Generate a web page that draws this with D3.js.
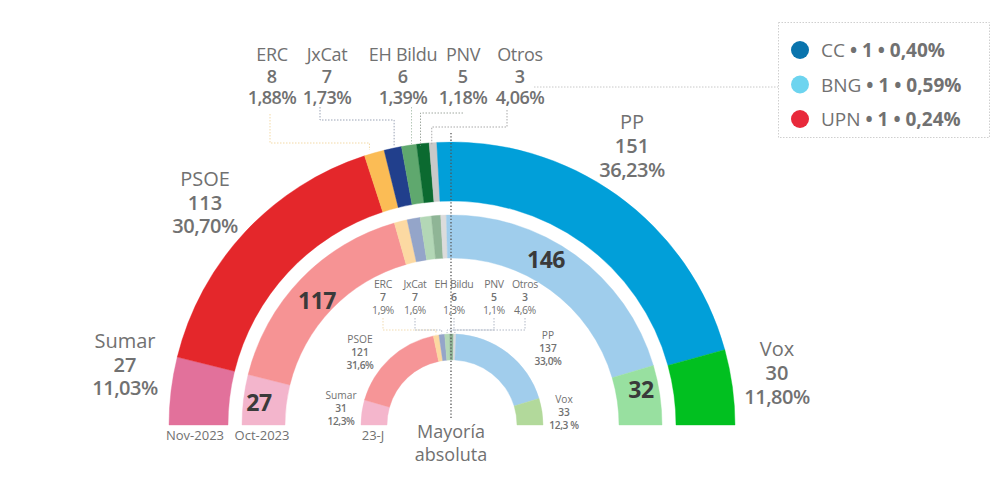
<!DOCTYPE html>
<html><head><meta charset="utf-8">
<script src="https://cdn.jsdelivr.net/npm/d3@7"></script>
<style>body{margin:0;background:#fff}svg{display:block;font-family:"Open Sans",sans-serif}</style>
</head><body><svg id="c" width="991" height="478"></svg>
<script>
const parties = ["Sumar","PSOE","ERC","JxCat","EH Bildu","PNV","Otros","PP","Vox"];
const seatsNov = [27,113,8,7,6,5,3,151,30];
const seatsOct = [27,117,7,7,6,5,3,146,32];
const seatsJul = [31,121,7,7,6,5,3,137,33];
const pctNov = ["11,03%","30,70%","1,88%","1,73%","1,39%","1,18%","4,06%","36,23%","11,80%"];
const pctJul = ["12,3%","31,6%","1,9%","1,6%","1,3%","1,1%","4,6%","33,0%","12,3 %"];
const ringLabels = ["Nov-2023","Oct-2023","23-J"];
const legendParties = ["CC","BNG","UPN"];
const legendSeats = [1,1,1];
const legendPct = ["0,40%","0,59%","0,24%"];

const colNov = ["#e2719b","#e4272b","#fbbc55","#213f8c","#5fa86e","#0b6a30","#c9c9c9","#019fd9","#01c020"];
const colOct = ["#f3b5cc","#f69394","#fcd9a2","#94a5c9","#b3d7b6","#8fb596","#dcdcdc","#9fcdec","#98e0a0"];
const colJul = ["#f4b6cc","#f69597","#fcd8a0","#94a5c9","#b3d7b6","#8fb596","#dcdcdc","#a1cdec","#b2d99b"];
const legendCol = ["#0a74ad","#6dd4ef","#e8293b"];

const svg = d3.select("#c");
const cx = 452, cy = 425;
const gray = "#717171";
const rings = [
  {seats: seatsNov, col: colNov, r0: 224, r1: 283},
  {seats: seatsOct, col: colOct, r0: 167, r1: 210},
  {seats: seatsJul, col: colJul, r0: 65, r1: 91}
];
const pie = d3.pie().sort(null).startAngle(-Math.PI/2).endAngle(Math.PI/2);
const g = svg.append("g").attr("transform", `translate(${cx},${cy})`);
const arcsData = rings.map(r => pie(r.seats));
rings.forEach((r, i) => {
  const arc = d3.arc().innerRadius(r.r0).outerRadius(r.r1);
  g.append("g").selectAll("path").data(arcsData[i]).join("path")
    .attr("d", arc).attr("fill", (d, j) => r.col[j]).attr("stroke", (d,j)=>r.col[j]).attr("stroke-width",0.4);
});
const mid = d => (d.startAngle + d.endAngle) / 2;
const pt = (a, r) => [cx + r * Math.sin(a), cy - r * Math.cos(a)];

// Majority line
svg.append("line").attr("x1", cx - 1).attr("x2", cx - 1).attr("y1", 133).attr("y2", 420)
  .attr("stroke", "#555").attr("stroke-width", 1.3).attr("stroke-dasharray", "1.3,2");

// Outer small party labels
const topX = [null,null,272,327,403,463,520,null,null];
const leaderCol = [null,null,"#f3d9a6","#9aa3b5","#b5c9b8","#a0a8a0","#a9a9a9",null,null];
const ld = d3.line();
for (let j = 2; j <= 6; j++) {
  const t = svg.append("text").attr("text-anchor", "middle").attr("fill", gray).attr("font-size", 18);
  t.append("tspan").attr("x", topX[j]).attr("y", 61).attr("letter-spacing", -0.3).text(parties[j]);
  t.append("tspan").attr("x", topX[j]).attr("y", 83).attr("font-weight", 600).text(seatsNov[j]);
  t.append("tspan").attr("x", topX[j]).attr("y", 104).attr("font-weight", 600).attr("letter-spacing", -0.6).text(pctNov[j]);
  const p = pt(mid(arcsData[0][j]), 286);
  let pts;
  if (j === 2) pts = [[topX[j]-2, 114], [topX[j]-2, 143], [p[0]-4, 143], [p[0]-4, 150]];
  if (j === 3) pts = [[topX[j]-7, 107], [topX[j]-7, 120], [p[0]+2, 120], [p[0]+2, 146]];
  if (j === 4) pts = [[p[0]+3, 107], [p[0]+3, 144]];
  if (j === 5) pts = [[topX[j], 113], [p[0] - 2, 113], [p[0] - 2, 146]];
  if (j === 6) pts = [[topX[j] - 13, 110], [topX[j] - 13, 127], [p[0]-1, 127], [p[0]-1, 145]];
  svg.append("path").attr("d", ld(pts)).attr("fill", "none").attr("stroke", leaderCol[j])
    .attr("stroke-width", 1).attr("stroke-dasharray", "1.5,1.5");
}
// connector to legend
svg.append("path").attr("d", ld([[534, 87], [778, 87]])).attr("fill", "none")
  .attr("stroke", "#c8c8c8").attr("stroke-width", 1).attr("stroke-dasharray", "1.5,1.5");

// Big outer labels
function block(x, y, name, num, pct, size, gap) {
  const t = svg.append("text").attr("text-anchor", "middle").attr("fill", gray).attr("font-size", size);
  t.append("tspan").attr("x", x).attr("y", y).text(name);
  t.append("tspan").attr("x", x).attr("y", y + gap).attr("font-weight", 600).text(num);
  t.append("tspan").attr("x", x).attr("y", y + 2 * gap).attr("font-weight", 600).attr("letter-spacing", -0.5).text(pct);
}
block(205, 186, parties[1], seatsNov[1], pctNov[1], 20, 23.5);
block(125, 348, parties[0], seatsNov[0], pctNov[0], 20, 23.5);
block(632, 129, parties[7], seatsNov[7], pctNov[7], 20, 24);
block(777, 356, parties[8], seatsNov[8], pctNov[8], 20, 24);

// Middle ring numbers
const darkTxt = "#3a3a3a";
const midNums = [[0, 259, 411], [1, 317, 309], [7, 546, 268], [8, 641, 398]];
midNums.forEach(([j, x, y]) => {
  svg.append("text").attr("x", x).attr("y", y).attr("text-anchor", "middle").attr("fill", darkTxt)
    .attr("font-size", 23).attr("font-weight", 700).attr("letter-spacing", -0.5).text(seatsOct[j]);
});

// Inner ring labels
const smallX = [null,null,383,415,454,494,525,null,null];
for (let j = 2; j <= 6; j++) {
  const t = svg.append("text").attr("text-anchor", "middle").attr("fill", gray).attr("font-size", 10.5);
  t.append("tspan").attr("x", smallX[j]).attr("y", 288).attr("letter-spacing", -0.3).text(parties[j]);
  t.append("tspan").attr("x", smallX[j]).attr("y", 301).attr("font-weight", 600).text(seatsJul[j]);
  t.append("tspan").attr("x", smallX[j]).attr("y", 314).attr("letter-spacing", -0.4).text(pctJul[j]);
  const p = pt(mid(arcsData[2][j]), 92);
  svg.append("path").attr("d", ld([[smallX[j], 318], [smallX[j], 330], [p[0], 330], [p[0], p[1]]]))
    .attr("fill", "none").attr("stroke", j === 2 ? "#f0d8a8" : "#a8b0c0").attr("stroke-width", 0.9)
    .attr("stroke-dasharray", "1.5,1.5");
}
function smallBlock(x, y, j) {
  const t = svg.append("text").attr("text-anchor", "middle").attr("fill", gray).attr("font-size", 10.2);
  t.append("tspan").attr("x", x).attr("y", y).text(parties[j]);
  t.append("tspan").attr("x", x).attr("y", y + 13).attr("font-weight", 600).text(seatsJul[j]);
  t.append("tspan").attr("x", x).attr("y", y + 26).attr("font-weight", 600).attr("letter-spacing", -0.4).text(pctJul[j]);
}
smallBlock(360, 343, 1);
smallBlock(341, 399, 0);
smallBlock(548, 339, 7);
smallBlock(564, 403, 8);

// Ring date labels
[[195, 440], [262, 440], [373, 440]].forEach(([x, y], i) => {
  svg.append("text").attr("x", x).attr("y", y).attr("text-anchor", "middle").attr("fill", gray)
    .attr("font-size", 13).text(ringLabels[i]);
});
svg.append("text").attr("x", 451).attr("y", 438).attr("text-anchor", "middle").attr("fill", gray)
  .attr("font-size", 18).text("Mayoría");
svg.append("text").attr("x", 451).attr("y", 461).attr("text-anchor", "middle").attr("fill", gray)
  .attr("font-size", 18).text("absoluta");

// Legend
svg.append("rect").attr("x", 778.5).attr("y", 22.5).attr("width", 211).attr("height", 115)
  .attr("fill", "none").attr("stroke", "#cfcfcf").attr("stroke-dasharray", "1.5,1.5");
legendParties.forEach((p, i) => {
  const y = 50 + i * 34.5;
  svg.append("circle").attr("cx", 800).attr("cy", y).attr("r", 9).attr("fill", legendCol[i]);
  const t = svg.append("text").attr("x", 821).attr("y", y + 7).attr("fill", gray).attr("font-size", 19);
  t.append("tspan").text(p + " ");
  t.append("tspan").attr("font-weight", 700).text("• " + legendSeats[i] + " • " + legendPct[i]);
});
</script></body></html>
